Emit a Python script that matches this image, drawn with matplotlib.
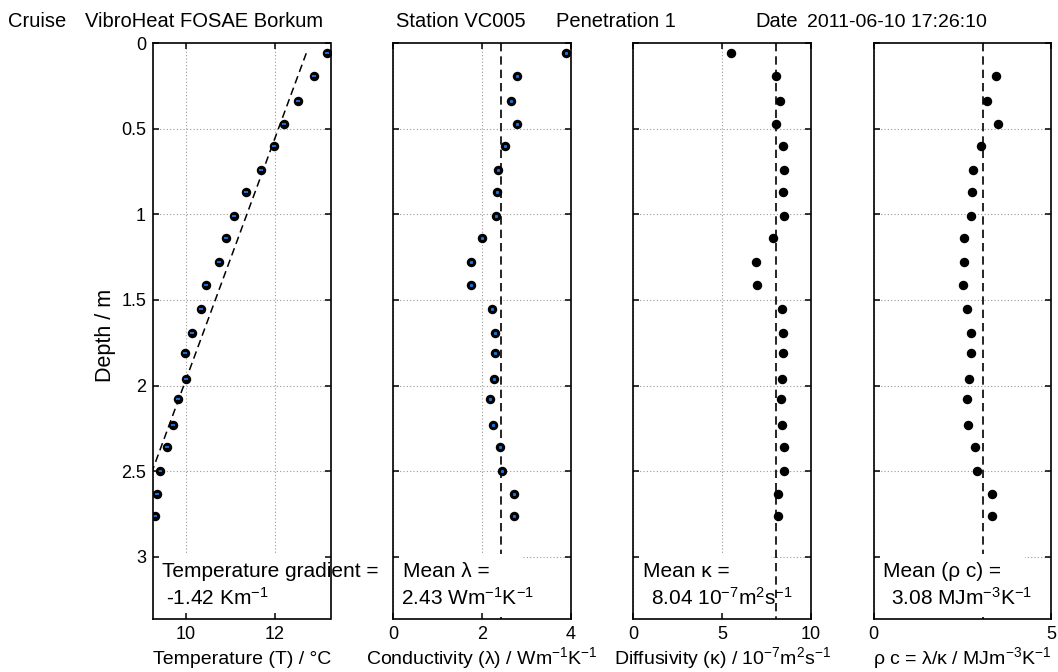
import numpy as np
import matplotlib
matplotlib.use('Agg')
import matplotlib.pyplot as plt
from matplotlib.patches import Rectangle

plt.rcParams['font.family'] = ['Liberation Sans', 'DejaVu Sans']
plt.rcParams['mathtext.fontset'] = 'custom'
plt.rcParams['mathtext.rm'] = 'Liberation Sans'
plt.rcParams['mathtext.default'] = 'regular'

# header info
cruise = 'VibroHeat FOSAE Borkum'
station = 'VC005'
penetration = '1'
date = '2011-06-10 17:26:10'

# sensor depths (m)
depth = [0.06, 0.19, 0.34, 0.47, 0.60, 0.74, 0.87, 1.01, 1.14, 1.28, 1.41,
         1.55, 1.69, 1.81, 1.96, 2.08, 2.23, 2.36, 2.50, 2.63, 2.76]
temperature = [13.17, 12.87, 12.53, 12.21, 11.99, 11.68, 11.34, 11.07, 10.89, 10.75, 10.45,
               10.35, 10.14, 9.99, 10.01, 9.82, 9.70, 9.57, 9.42, 9.35, 9.30]
conductivity = [3.89, 2.78, 2.66, 2.79, 2.52, 2.36, 2.33, 2.32, 2.00, 1.74, 1.76,
                2.22, 2.29, 2.30, 2.26, 2.18, 2.24, 2.40, 2.45, 2.71, 2.71]
diffusivity = [5.50, 8.06, 8.29, 8.02, 8.42, 8.47, 8.46, 8.47, 7.88, 6.89, 6.99,
               8.36, 8.46, 8.46, 8.40, 8.31, 8.36, 8.47, 8.50, 8.18, 8.18]
heat_cap = [np.nan, 3.44, 3.20, 3.51, 3.01, 2.81, 2.77, 2.74, 2.53, 2.53, 2.52,
            2.63, 2.73, 2.74, 2.69, 2.62, 2.67, 2.84, 2.90, 3.32, 3.34]

temp_gradient = -1.42
temp_intercept = 12.79
mean_cond = 2.43
mean_diff = 8.04
mean_heatcap = 3.08

W, H = 1058, 672
fig = plt.figure(figsize=(W / 100, H / 100), dpi=100)

def fx(px):
    return px / W

def fy(py):
    return 1 - py / H

ax_left = [153, 393.3, 633.3, 873.7]
ax_w = 177.5
ax_top, ax_bot = 43, 619
axes = []
for l in ax_left:
    a = fig.add_axes([fx(l), fy(ax_bot), ax_w / W, (ax_bot - ax_top) / H])
    axes.append(a)

xlims = [(9.26, 13.25), (0, 4), (0, 10), (0, 5)]
xticks = [[10, 12], [0, 2, 4], [0, 5, 10], [0, 5]]
yticks = [0, 0.5, 1, 1.5, 2, 2.5, 3]
xlabels = ['Temperature (T) / °C',
           'Conductivity (λ) / Wm$^{-1}$K$^{-1}$',
           'Diffusivity (κ) / 10$^{-7}$m$^{2}$s$^{-1}$',
           'ρ c = λ/κ / MJm$^{-3}$K$^{-1}$']
box_right = [387, 523, 771, 1025]
line1 = ['Temperature gradient =', 'Mean λ =', 'Mean κ =', 'Mean (ρ c) =']
line2 = ['%.2f Km$^{-1}$' % temp_gradient,
         '%.2f Wm$^{-1}$K$^{-1}$' % mean_cond,
         '%.2f 10$^{-7}$m$^{2}$s$^{-1}$' % mean_diff,
         '%.2f MJm$^{-3}$K$^{-1}$' % mean_heatcap]
line1_x = [161.7, 402.7, 642.7, 883.3]
line2_x = [165.7, 400.7, 650.7, 891]
values = [temperature, conductivity, diffusivity, heat_cap]
blue = '#1673d9'

for i, ax in enumerate(axes):
    # dotted grid drawn by hand so the ticks can stay on top of the white boxes
    for xt in xticks[i]:
        ax.axvline(xt, color='#9a9a9a', ls=(0, (1, 2)), lw=0.8, zorder=1)
    for yt in yticks[1:]:
        ax.axhline(yt, color='#9a9a9a', ls=(0, (1, 2)), lw=0.8, zorder=1)

    ax.plot(values[i], depth, 'o', color='black', ms=5.8, zorder=3)
    if i == 0:
        ax.plot(values[i], depth, '_', color=blue, ms=3.5, mew=1.4, zorder=3.1)
        fd = np.array([depth[0], depth[-1]])
        ax.plot(temp_intercept + temp_gradient * fd, fd, color='black', ls=(0, (5, 3)), lw=1.1, zorder=2)
    elif i == 1:
        ax.plot(values[i], depth, 's', color=blue, ms=1.2, zorder=3.1)
    if i > 0:
        mean_val = [mean_cond, mean_diff, mean_heatcap][i - 1]
        ax.plot([mean_val, mean_val], [0, 3.4], color='black', ls=(0, (5, 3)), lw=1.2, zorder=2)

    # white box behind the annotation
    ax.add_patch(Rectangle((fx(ax_left[i] + 2), fy(617)), (box_right[i] - ax_left[i] - 2) / W, 63 / H,
                           transform=fig.transFigure, fc='white', ec='none', zorder=3.5, clip_on=False))
    ax.text(fx(line1_x[i]), fy(577), line1[i], transform=fig.transFigure, fontsize=15, zorder=3.6)
    ax.text(fx(line2_x[i]), fy(605), line2[i], transform=fig.transFigure, fontsize=15, zorder=3.6)

    ax.set_xlim(xlims[i])
    ax.set_ylim(3.362, 0)
    ax.set_xticks(xticks[i])
    ax.set_yticks(yticks)
    ax.set_yticklabels(['0', '0.5', '1', '1.5', '2', '2.5', '3'] if i == 0 else [])
    ax.tick_params(direction='in', top=True, right=True, length=4, width=1.1, labelsize=13, pad=5)
    ax.set_axisbelow(False)
    for sp in ax.spines.values():
        sp.set_linewidth(1.2)
        sp.set_zorder(4)
    ax.xaxis.set_zorder(4)
    ax.yaxis.set_zorder(4)
    ax.set_xlabel(xlabels[i], fontsize=14, va='baseline')
    ax.xaxis.set_label_coords(0.5, (ax_bot - 664) / (ax_bot - ax_top))

fig.text(fx(105.5), fy(335), 'Depth / m', rotation=90, ha='center', va='center', fontsize=15.5)

# header line
fig.text(fx(8), fy(26.7), 'Cruise', fontsize=14.5)
fig.text(fx(85), fy(26.7), cruise, fontsize=14.5)
fig.text(fx(396), fy(26.7), 'Station ' + station, fontsize=14.5)
fig.text(fx(556), fy(26.7), 'Penetration ' + penetration, fontsize=14.5)
fig.text(fx(755), fy(26.7), 'Date', fontsize=14.5)
fig.text(fx(807), fy(26.7), date, fontsize=14)

fig.savefig('out.png', dpi=100)
